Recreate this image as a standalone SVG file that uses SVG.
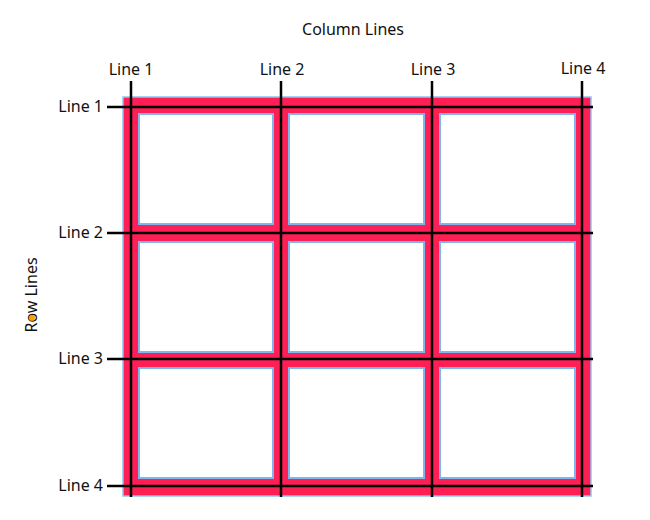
<svg xmlns="http://www.w3.org/2000/svg" width="650" height="520" viewBox="0 0 650 520">
<style>
text{font-family:"Noto Sans","Open Sans","Liberation Sans",sans-serif;font-size:16px;fill:#111}
.cell{fill:#fff;stroke:#7fb6ee;stroke-width:2}
.gl{stroke:#000;stroke-width:2.5}
</style>
<rect width="650" height="520" fill="#fff"/>
<g id="grid">
<rect x="123" y="97" width="468" height="399" fill="#ff1f55" stroke="#8fc4f2" stroke-width="1.5"/>
</g>
<g id="cells">
<rect class="cell" x="139" y="114" width="134" height="110"/>
<rect class="cell" x="289" y="114" width="135" height="110"/>
<rect class="cell" x="440" y="114" width="135" height="110"/>
<rect class="cell" x="139" y="242" width="134" height="110"/>
<rect class="cell" x="289" y="242" width="135" height="110"/>
<rect class="cell" x="440" y="242" width="135" height="110"/>
<rect class="cell" x="139" y="368" width="134" height="110"/>
<rect class="cell" x="289" y="368" width="135" height="110"/>
<rect class="cell" x="440" y="368" width="135" height="110"/>
</g>
<g id="connectors">
<line class="gl" x1="131" y1="81" x2="131" y2="497"/>
<line class="gl" x1="281" y1="81" x2="281" y2="497"/>
<line class="gl" x1="432" y1="81" x2="432" y2="497"/>
<line class="gl" x1="582" y1="81" x2="582" y2="497"/>
<line class="gl" x1="107" y1="107" x2="593" y2="107"/>
<line class="gl" x1="107" y1="233" x2="593" y2="233"/>
<line class="gl" x1="107" y1="359" x2="593" y2="359"/>
<line class="gl" x1="107" y1="486" x2="593" y2="486"/>
</g>
<g id="labels">
<text x="353" y="35" text-anchor="middle">Column Lines</text>
<text x="131" y="75" text-anchor="middle">Line 1</text>
<text x="282" y="75" text-anchor="middle">Line 2</text>
<text x="433" y="75" text-anchor="middle">Line 3</text>
<text x="583" y="74" text-anchor="middle">Line 4</text>
<text x="103" y="112" text-anchor="end">Line 1</text>
<text x="103" y="238" text-anchor="end">Line 2</text>
<text x="103" y="364" text-anchor="end">Line 3</text>
<text x="103" y="491" text-anchor="end">Line 4</text>
<text transform="translate(37,295) rotate(-90)" text-anchor="middle">Row Lines</text>
<circle cx="32" cy="318" r="3" fill="#f5a300"/>
</g>
</svg>
